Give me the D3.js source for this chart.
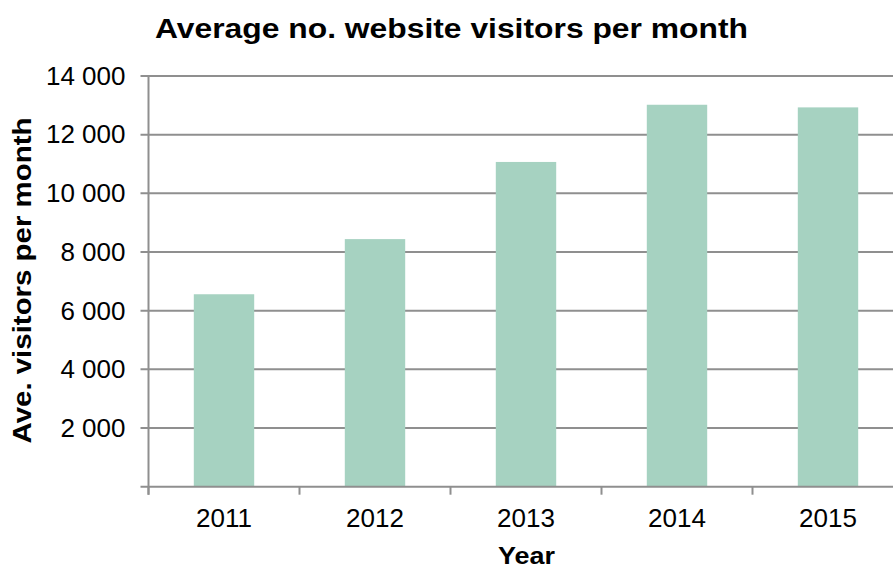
<!DOCTYPE html>
<html>
<head>
<meta charset="utf-8">
<script src="https://cdn.jsdelivr.net/npm/d3@7"></script>
<style>
  html, body { margin: 0; padding: 0; background: #fff; }
  svg { display: block; font-family: "Liberation Sans", Arial, Helvetica, sans-serif; }
</style>
</head>
<body>
<svg id="chart" width="893" height="567"></svg>
<script>
// Average monthly website visitors, by year
const years = ["2011", "2012", "2013", "2014", "2015"];
const visitors = [6560, 8440, 11070, 13020, 12930];
const yTicks = [2000, 4000, 6000, 8000, 10000, 12000, 14000];

const chartTitle = "Average no. website visitors per month";
const xTitle = "Year";
const yTitle = "Ave. visitors per month";

const plot = { left: 148.5, right: 903.5, top: 76, bottom: 486.7 };

const svg = d3.select("#chart");
const fmt = d3.formatLocale({ decimal: ".", thousands: " ", grouping: [3], currency: ["", ""] }).format(",");

const x = d3.scaleBand()
  .domain(years)
  .range([plot.left, plot.right])
  .paddingInner(0.6)
  .paddingOuter(0.3);

const y = d3.scaleLinear()
  .domain([0, 14000])
  .range([plot.bottom, plot.top]);

const gridColor = "#8f8f8f";

// horizontal gridlines (with short outward ticks on the left)
svg.append("g")
  .selectAll("line")
  .data(yTicks)
  .join("line")
  .attr("x1", plot.left - 8)
  .attr("x2", plot.right)
  .attr("y1", d => y(d))
  .attr("y2", d => y(d))
  .attr("stroke", gridColor)
  .attr("stroke-width", 2);

// bars
svg.append("g")
  .selectAll("rect")
  .data(years.map((yr, i) => ({ yr, v: visitors[i] })))
  .join("rect")
  .attr("x", d => x(d.yr))
  .attr("width", x.bandwidth())
  .attr("y", d => y(d.v))
  .attr("height", d => y(0) - y(d.v))
  .attr("fill", "#a6d2c1");

// y axis: labels via d3 axis, line drawn on the left edge
const yAxis = svg.append("g")
  .attr("transform", `translate(${plot.left},0)`)
  .call(d3.axisLeft(y).tickValues(yTicks).tickFormat(fmt).tickSize(0).tickPadding(23));
yAxis.select(".domain").remove();
yAxis.selectAll("text")
  .attr("font-size", 26)
  .attr("font-family", "Liberation Sans, Arial, sans-serif")
  .attr("fill", "#000");

svg.append("line")
  .attr("x1", plot.left).attr("x2", plot.left)
  .attr("y1", y(14000)).attr("y2", plot.bottom + 8)
  .attr("stroke", gridColor).attr("stroke-width", 2);

// x axis: baseline, boundary ticks and category labels
svg.append("line")
  .attr("x1", plot.left - 8).attr("x2", plot.right)
  .attr("y1", plot.bottom).attr("y2", plot.bottom)
  .attr("stroke", gridColor).attr("stroke-width", 2);

const step = x.step();
const boundaries = d3.range(years.length + 1).map(i => plot.left + i * step);
svg.append("g")
  .selectAll("line")
  .data(boundaries)
  .join("line")
  .attr("x1", d => d).attr("x2", d => d)
  .attr("y1", plot.bottom).attr("y2", plot.bottom + 8)
  .attr("stroke", gridColor).attr("stroke-width", 2);

svg.append("g")
  .selectAll("text")
  .data(years)
  .join("text")
  .attr("x", d => x(d) + x.bandwidth() / 2)
  .attr("y", 527)
  .attr("text-anchor", "middle")
  .attr("font-size", 26)
  .attr("fill", "#000")
  .text(d => d);

// titles
svg.append("text")
  .attr("x", 451.5).attr("y", 37.5)
  .attr("text-anchor", "middle")
  .attr("font-size", 28.5)
  .attr("font-weight", "bold")
  .attr("textLength", 593)
  .attr("lengthAdjust", "spacingAndGlyphs")
  .text(chartTitle);

svg.append("text")
  .attr("x", 526.5).attr("y", 563.5)
  .attr("text-anchor", "middle")
  .attr("font-size", 24.5)
  .attr("font-weight", "bold")
  .attr("textLength", 57)
  .attr("lengthAdjust", "spacingAndGlyphs")
  .text(xTitle);

svg.append("text")
  .attr("transform", "translate(31,280.5) rotate(-90)")
  .attr("text-anchor", "middle")
  .attr("font-size", 25.5)
  .attr("font-weight", "bold")
  .attr("textLength", 326)
  .attr("lengthAdjust", "spacingAndGlyphs")
  .text(yTitle);
</script>
</body>
</html>
